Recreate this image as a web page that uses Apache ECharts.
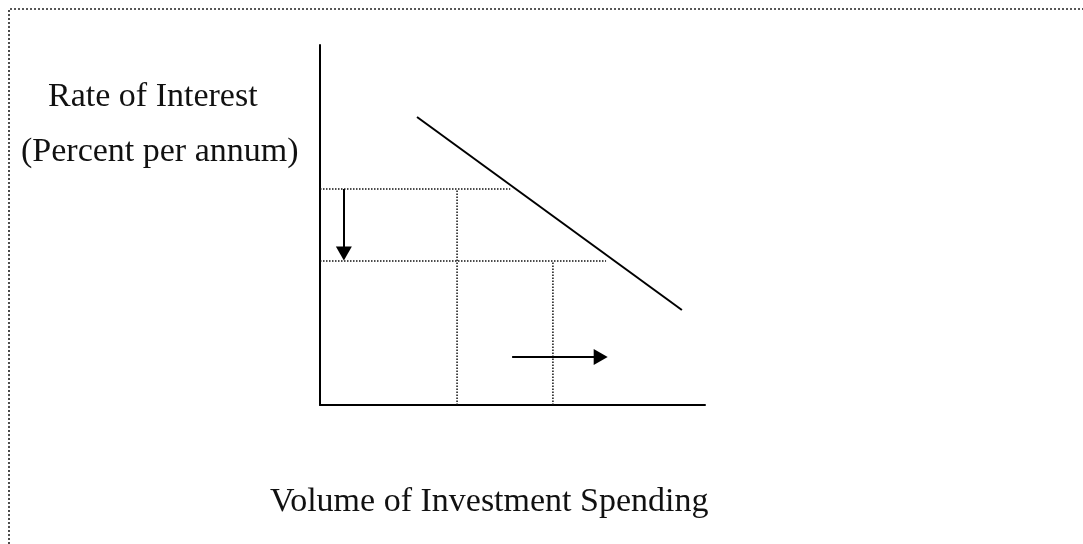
<!DOCTYPE html>
<html>
<head>
<meta charset="utf-8">
<title>Investment demand</title>
<script src="https://cdn.jsdelivr.net/npm/echarts@6/dist/echarts.min.js"></script>
<style>
  html, body { margin: 0; padding: 0; background: #fff; }
  #chart { width: 1083px; height: 544px; }
</style>
</head>
<body>
<div id="chart"></div>
<script>
// axis scale: both axes run 0..100
const demandX = [25.2, 94];      // investment demand curve, x ends
const demandY = [80, 26.4];      // investment demand curve, y ends
const rateLevels = [60, 40];     // r1, r2
const rateGuideEnd = [49.4, 74.3];
const investLevels = [35.6, 60.5]; // I1, I2
const rateArrow = [6.2, 60, 42.1];   // x, from y, to y
const investArrow = [13.3, 49.9, 72.9]; // y, from x, to x

const yTitle = ['Rate of Interest', '(Percent per annum)'];
const xTitle = 'Volume of Investment Spending';

const chart = echarts.init(document.getElementById('chart'));

const dotted = { color: '#111', width: 1.5, type: [1.5, 1.5] };
const font = '"Liberation Serif", "DejaVu Serif", serif';

// dotted guide lines
const guides = [];
rateLevels.forEach((r, i) => {
  guides.push({ type: 'line', data: [[0, r], [rateGuideEnd[i], r]], symbol: 'none', silent: true, lineStyle: dotted });
});
investLevels.forEach((x, i) => {
  guides.push({ type: 'line', data: [[x, 0], [x, rateLevels[i]]], symbol: 'none', silent: true, lineStyle: dotted });
});

const option = {
  animation: false,
  grid: { left: 320, top: 45, width: 385, height: 360 },
  xAxis: {
    type: 'value', min: 0, max: 100,
    axisLine: { show: true, onZero: false, lineStyle: { color: '#000', width: 2 } },
    axisTick: { show: false }, axisLabel: { show: false }, splitLine: { show: false }
  },
  yAxis: {
    type: 'value', min: 0, max: 100,
    axisLine: { show: true, onZero: false, lineStyle: { color: '#000', width: 2 } },
    axisTick: { show: false }, axisLabel: { show: false }, splitLine: { show: false }
  },
  series: [
    ...guides,
    {
      name: 'Investment demand',
      type: 'line',
      data: demandX.map((x, i) => [x, demandY[i]]),
      symbol: 'none',
      silent: true,
      lineStyle: { color: '#000', width: 2 },
      markLine: {
        silent: true,
        symbol: ['none', 'triangle'],
        symbolSize: [16, 14],
        label: { show: false },
        lineStyle: { color: '#000', width: 2, type: 'solid' },
        itemStyle: { color: '#000' },
        data: [
          [{ coord: [rateArrow[0], rateArrow[1]] }, { coord: [rateArrow[0], rateArrow[2]] }],
          [{ coord: [investArrow[1], investArrow[0]] }, { coord: [investArrow[2], investArrow[0]] }]
        ]
      }
    }
  ],
  graphic: [
    {
      type: 'polyline', silent: true,
      shape: { points: [[9, 544], [9, 9], [1083, 9]] },
      style: { stroke: '#222', lineWidth: 1.6, lineDash: [2, 2], fill: null }
    },
    { type: 'text', left: 48, top: 80, style: { text: yTitle[0], font: '34px ' + font, fill: '#111' } },
    { type: 'text', left: 21, top: 135, style: { text: yTitle[1], font: '34px ' + font, fill: '#111' } },
    { type: 'text', left: 270, top: 485, style: { text: xTitle, font: '34px ' + font, fill: '#111' } }
  ]
};

chart.setOption(option);
</script>
</body>
</html>
